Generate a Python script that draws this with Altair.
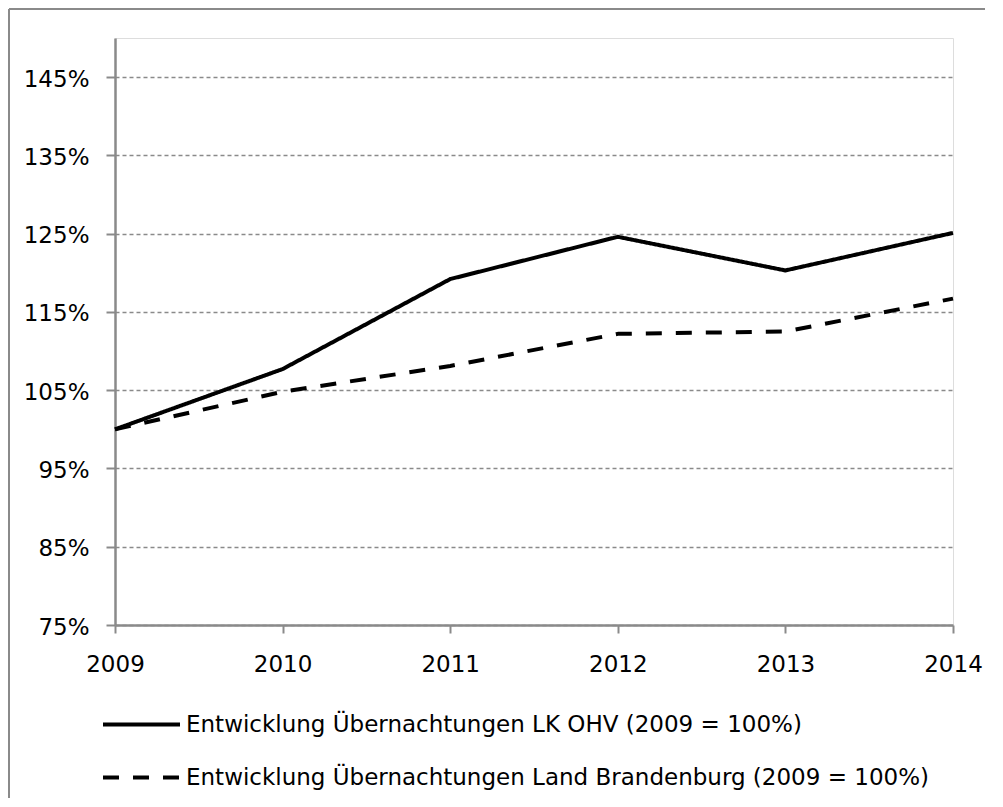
import altair as alt
import pandas as pd

years = [2009, 2010, 2011, 2012, 2013, 2014]
ohv = [100.0, 107.7, 119.2, 124.6, 120.3, 125.1]
brandenburg = [100.0, 104.8, 108.1, 112.2, 112.5, 116.7]
series_names = [
    "Entwicklung Übernachtungen LK OHV (2009 = 100%)",
    "Entwicklung Übernachtungen Land Brandenburg (2009 = 100%)",
]
y_ticks = [75, 85, 95, 105, 115, 125, 135, 145]

rows = []
for name, vals in zip(series_names, [ohv, brandenburg]):
    for yr, v in zip(years, vals):
        rows.append({"Jahr": yr, "Wert": v, "Reihe": name})
df = pd.DataFrame(rows)

FONT = "DejaVu Sans"
GRAY = "#8a8a8a"

lines = alt.Chart(df).mark_line(color="black", strokeWidth=4, strokeCap="butt", strokeJoin="round").encode(
    x=alt.X("Jahr:Q",
            scale=alt.Scale(domain=[2009, 2014], nice=False, zero=False),
            axis=alt.Axis(values=years, format="d", title=None, grid=False,
                          domainColor=GRAY, domainWidth=2.5,
                          tickColor=GRAY, tickWidth=2, tickSize=8,
                          labelFont=FONT, labelFontSize=23, labelColor="black",
                          labelPadding=20, labelFlush=False)),
    y=alt.Y("Wert:Q",
            scale=alt.Scale(domain=[75, 150], nice=False, zero=False),
            axis=alt.Axis(values=y_ticks, title=None,
                          labelExpr="datum.value + '%'",
                          grid=True, gridColor=GRAY, gridDash=[4, 3], gridWidth=1.5,
                          domainColor=GRAY, domainWidth=2.5,
                          tickColor=GRAY, tickWidth=2, tickSize=9,
                          labelFont=FONT, labelFontSize=23, labelColor="black",
                          labelPadding=17, labelOffset=2)),
    strokeDash=alt.StrokeDash("Reihe:N",
                              scale=alt.Scale(domain=series_names, range=[[1, 0], [16, 14]]),
                              sort=series_names,
                              legend=alt.Legend(title=None, orient="none", legendX=-14, legendY=646,
                                                direction="vertical", padding=0,
                                                symbolType="stroke", symbolSize=5929,
                                                symbolStrokeWidth=4, symbolStrokeColor="black",
                                                labelFont=FONT, labelFontSize=23, labelColor="black",
                                                labelLimit=0, labelOffset=4, rowPadding=-29)),
    detail="Reihe:N",
)

frame_v = alt.Chart(df).mark_rule(color=GRAY, strokeWidth=2).encode(
    x=alt.value(-106), y=alt.value(-29), y2=alt.value(760))
frame_h = alt.Chart(df).mark_rule(color=GRAY, strokeWidth=2).encode(
    x=alt.value(-106), x2=alt.value(870), y=alt.value(-29))

chart = alt.layer(frame_v, frame_h, lines).properties(
    width=838, height=587,
    autosize=alt.AutoSizeParams(type="none"),
    padding={"left": 107, "top": 30, "right": 40, "bottom": 173},
).configure_view(stroke=None).configure(background="white")

chart.save("out.html", embed_options={"renderer": "svg", "actions": False})
